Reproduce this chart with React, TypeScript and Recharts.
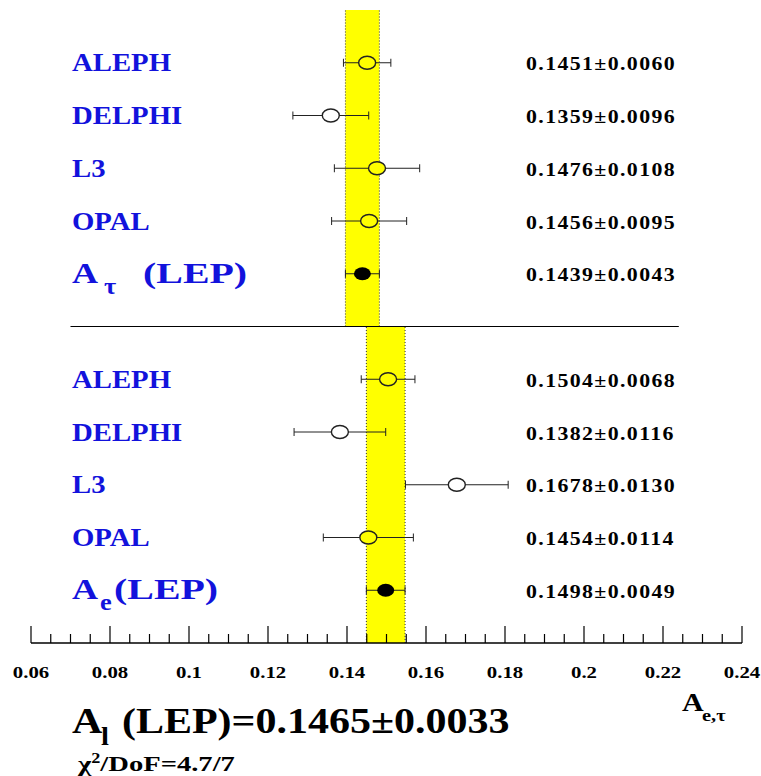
import React from "react";
import { ComposedChart, Scatter, ErrorBar, XAxis, YAxis, ReferenceArea, ReferenceLine } from "recharts";

// --- data ---
const experiments = ["ALEPH", "DELPHI", "L3", "OPAL"];
const tauValues = [0.1451, 0.1359, 0.1476, 0.1456];
const tauErrors = [0.006, 0.0096, 0.0108, 0.0095];
const tauLep = 0.1439;
const tauLepErr = 0.0043;
const eValues = [0.1504, 0.1382, 0.1678, 0.1454];
const eErrors = [0.0068, 0.0116, 0.013, 0.0114];
const eLep = 0.1498;
const eLepErr = 0.0049;
const majorTicks = [0.06, 0.08, 0.1, 0.12, 0.14, 0.16, 0.18, 0.2, 0.22, 0.24];
const combinedValue = "0.1465";
const combinedError = "0.0033";
const chi2Text = "4.7/7";
const separatorRange = [0.07, 0.224];

const FONT = "Liberation Serif, Times New Roman, serif";
const BLUE = "#1212dc";
const YELLOW = "#ffff00";

const minorTicks: number[] = [];
majorTicks.forEach((t, i) => {
  if (i === majorTicks.length - 1) return;
  const step = (majorTicks[i + 1] - t) / 4;
  for (let k = 1; k < 4; k++) minorTicks.push(+(t + k * step).toFixed(4));
});
const allTicks = [...majorTicks, ...minorTicks].sort((a, b) => a - b);

const tauLo = tauLep - tauLepErr;
const tauHi = tauLep + tauLepErr;
const eLo = eLep - eLepErr;
const eHi = eLep + eLepErr;

// rows: upper block (A_tau) at 11..7, separator at 6, lower block (A_e) at 5..1
const tauRows = [
  ...experiments.map((name, i) => ({ name, x: tauValues[i], err: tauErrors[i], row: 11 - i, lep: "", lo: tauLo, hi: tauHi })),
  { name: "", x: tauLep, err: tauLepErr, row: 7, lep: "τ", lo: tauLo, hi: tauHi },
];
const eRows = [
  ...experiments.map((name, i) => ({ name, x: eValues[i], err: eErrors[i], row: 5 - i, lep: "", lo: eLo, hi: eHi })),
  { name: "", x: eLep, err: eLepErr, row: 1, lep: "e", lo: eLo, hi: eHi },
];

function SText({ x, y, size, sx = 1.15, fill = "#000", anchor = "start", spacing = 0, children }: any) {
  return (
    <text
      transform={`translate(${x},${y}) scale(${sx},1)`}
      style={{ fontFamily: FONT, fontWeight: "bold", fontSize: size, letterSpacing: spacing }}
      fill={fill}
      textAnchor={anchor}
    >
      {children}
    </text>
  );
}

function Marker(props: any) {
  const { cx, cy, payload } = props;
  if (cx == null || cy == null) return null;
  const inBand = payload.x >= payload.lo && payload.x <= payload.hi;
  const valueText = `${payload.x.toFixed(4)}±${payload.err.toFixed(4)}`;
  return (
    <g>
      {payload.lep ? (
        <ellipse cx={cx} cy={cy} rx={8.5} ry={6.5} fill="#000" />
      ) : (
        <ellipse cx={cx} cy={cy} rx={8.5} ry={6.5} fill={inBand ? YELLOW : "#fff"} stroke="#222" strokeWidth={1.4} />
      )}
      {payload.lep ? (
        <g>
          <SText x={72} y={cy + 9} size={30} sx={1.2} fill={BLUE}>A</SText>
          <SText x={payload.lep === "τ" ? 104 : 100} y={cy + 20} size={24} sx={1.1} fill={BLUE}>{payload.lep}</SText>
          <SText x={payload.lep === "τ" ? 143 : 114} y={cy + 9} size={30} sx={1.33} fill={BLUE}>(LEP)</SText>
        </g>
      ) : (
        <SText x={72} y={cy + 8.5} size={25} sx={1.15} fill={BLUE}>{payload.name}</SText>
      )}
      <SText x={526} y={cy + 7.5} size={19} sx={1.15} spacing={1.2}>{valueText}</SText>
    </g>
  );
}

function AxisTick(props: any) {
  const { x, y, payload } = props;
  const major = majorTicks.some((t) => Math.abs(t - payload.value) < 1e-9);
  return (
    <g>
      <line x1={x} x2={x} y1={y} y2={y - (major ? 17 : 9)} stroke="#000" strokeWidth={1.2} />
      {major && (
        <SText x={x} y={y + 35} size={16} sx={1.3} anchor="middle">
          {String(parseFloat(payload.value.toFixed(2)))}
        </SText>
      )}
    </g>
  );
}

export default function App() {
  return (
    <div style={{ position: "absolute", left: 0, top: 0, width: 761, height: 776, background: "#fff" }}>
      <ComposedChart width={761} height={776} margin={{ top: 10, right: 19, bottom: 93, left: 31 }}>
        <XAxis
          type="number"
          dataKey="x"
          domain={[0.06, 0.24]}
          ticks={allTicks}
          interval={0}
          tickSize={0}
          tickMargin={0}
          height={40}
          axisLine={{ stroke: "#000", strokeWidth: 1.3 }}
          tickLine={false}
          tick={<AxisTick />}
          allowDataOverflow
        />
        <YAxis type="number" dataKey="row" domain={[0, 12]} hide width={0} />
        <ReferenceArea x1={tauLo} x2={tauHi} y1={6} y2={12} fill={YELLOW} fillOpacity={1} stroke="none" />
        <ReferenceArea x1={eLo} x2={eHi} y1={0} y2={6} fill={YELLOW} fillOpacity={1} stroke="none" />
        <ReferenceLine segment={[{ x: tauLo, y: 6 }, { x: tauLo, y: 12 }]} stroke="#333" strokeDasharray="1 2" />
        <ReferenceLine segment={[{ x: tauHi, y: 6 }, { x: tauHi, y: 12 }]} stroke="#333" strokeDasharray="1 2" />
        <ReferenceLine segment={[{ x: eLo, y: 0 }, { x: eLo, y: 6 }]} stroke="#333" strokeDasharray="1 2" />
        <ReferenceLine segment={[{ x: eHi, y: 0 }, { x: eHi, y: 6 }]} stroke="#333" strokeDasharray="1 2" />
        <ReferenceLine
          segment={[{ x: separatorRange[0], y: 6 }, { x: separatorRange[1], y: 6 }]}
          stroke="#000"
          strokeWidth={1.2}
        />
        <Scatter data={tauRows} dataKey="row" shape={<Marker />} isAnimationActive={false}>
          <ErrorBar dataKey="err" direction="x" width={4} stroke="#222" strokeWidth={1} isAnimationActive={false} />
        </Scatter>
        <Scatter data={eRows} dataKey="row" shape={<Marker />} isAnimationActive={false}>
          <ErrorBar dataKey="err" direction="x" width={4} stroke="#222" strokeWidth={1} isAnimationActive={false} />
        </Scatter>
      </ComposedChart>
      <svg width={761} height={776} style={{ position: "absolute", left: 0, top: 0, pointerEvents: "none" }}>
        <SText x={682} y={711} size={25} sx={1.2}>A</SText>
        <SText x={702} y={721} size={17} sx={1.2}>e,τ</SText>
        <SText x={72} y={733} size={35} sx={1.2}>A</SText>
        <SText x={101} y={745} size={26} sx={1.1}>l</SText>
        <SText x={122} y={733} size={35} sx={1.2}>{`(LEP)=${combinedValue}±${combinedError}`}</SText>
        <SText x={78} y={771} size={22} sx={1.3}>
          χ<tspan dy={-8} fontSize={14}>2</tspan>
          <tspan dy={8}>{`/DoF=${chi2Text}`}</tspan>
        </SText>
      </svg>
    </div>
  );
}
